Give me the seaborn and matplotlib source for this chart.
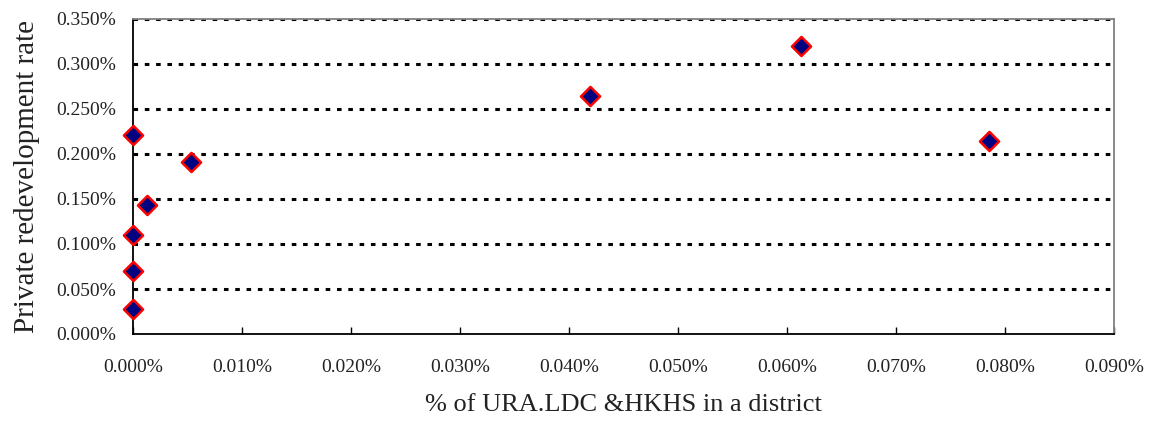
import matplotlib
matplotlib.use("Agg")
import matplotlib.pyplot as plt
from matplotlib.ticker import FuncFormatter, MultipleLocator
import seaborn as sns
import pandas as pd

# Data (values in percent)
ura_share = [0.0, 0.0, 0.0, 0.0, 0.00126, 0.0053, 0.0419, 0.0613, 0.0785]
private_rate = [0.2215, 0.1095, 0.0703, 0.0282, 0.1436, 0.1916, 0.2647, 0.3198, 0.2145]
x_label = "% of URA.LDC &HKHS in a district"
y_label = "Private redevelopment rate"

df = pd.DataFrame({"x": ura_share, "y": private_rate})

sns.set_theme(style="white")
plt.rcParams["font.family"] = ["Liberation Serif", "DejaVu Serif"]

fig = plt.figure(figsize=(11.5, 4.3), dpi=100)
ax = fig.add_axes([133 / 1150, 96 / 430, (1114 - 133) / 1150, (334 - 19) / 430])

ax.set_xlim(0, 0.09)
ax.set_ylim(0, 0.35)
ax.yaxis.set_major_locator(MultipleLocator(0.05))
ax.xaxis.set_major_locator(MultipleLocator(0.01))
ax.yaxis.set_major_formatter(FuncFormatter(lambda v, p: f"{v:.3f}%"))
ax.xaxis.set_major_formatter(FuncFormatter(lambda v, p: f"{v:.3f}%"))

ax.grid(False)
for yv in ax.get_yticks():
    if yv > 0:
        ax.axhline(yv, color="black", lw=2.2, linestyle=(0, (1.5, 2.2)), zorder=1)

sns.scatterplot(data=df, x="x", y="y", ax=ax, marker="D", s=95,
                color="#000080", edgecolor="#ff0000", linewidth=1.8,
                zorder=5, clip_on=False, legend=False)

for side in ["left", "bottom"]:
    ax.spines[side].set_color("black")
    ax.spines[side].set_linewidth(1.3)
for side in ["top", "right"]:
    ax.spines[side].set_color("#808080")
    ax.spines[side].set_linewidth(1.3)
    ax.spines[side].set_visible(True)

ax.tick_params(axis="x", direction="in", length=5, width=1, color="black",
               pad=18, labelsize=14, bottom=True, top=False)
ax.tick_params(axis="y", length=0, pad=12, labelsize=14, left=True)
for lbl in ax.get_xticklabels() + ax.get_yticklabels():
    lbl.set_color("#222222")

ax.set_xlabel(x_label, fontsize=19, labelpad=13, color="#222222")
ax.set_ylabel(y_label, fontsize=21, labelpad=12, color="#222222")

fig.savefig("out.png", dpi=100)
